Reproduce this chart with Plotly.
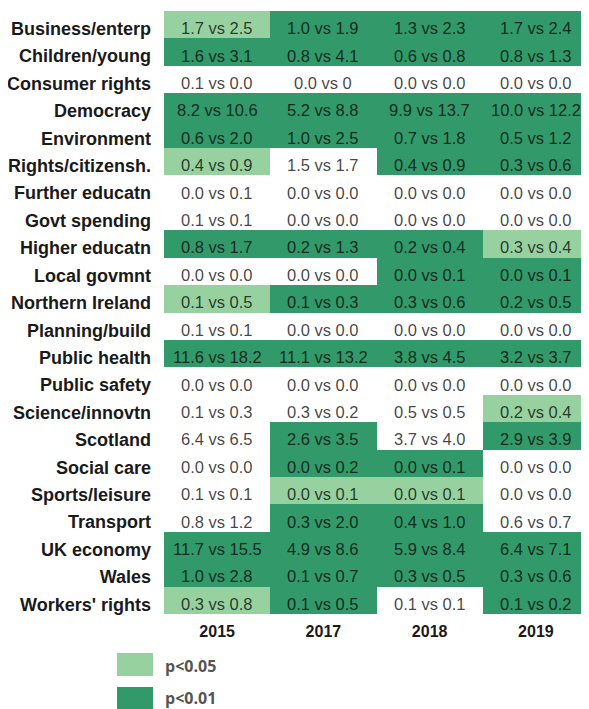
import plotly.graph_objects as go

TOPICS = [
    "Business/enterp", "Children/young", "Consumer rights", "Democracy",
    "Environment", "Rights/citizensh.", "Further educatn", "Govt spending",
    "Higher educatn", "Local govmnt", "Northern Ireland", "Planning/build",
    "Public health", "Public safety", "Science/innovtn", "Scotland",
    "Social care", "Sports/leisure", "Transport", "UK economy", "Wales",
    "Workers' rights",
]
YEARS = ["2015", "2017", "2018", "2019"]

# cell labels per year (share A vs share B)
LABELS_2015 = ["1.7 vs 2.5", "1.6 vs 3.1", "0.1 vs 0.0", "8.2 vs 10.6", "0.6 vs 2.0",
               "0.4 vs 0.9", "0.0 vs 0.1", "0.1 vs 0.1", "0.8 vs 1.7", "0.0 vs 0.0",
               "0.1 vs 0.5", "0.1 vs 0.1", "11.6 vs 18.2", "0.0 vs 0.0", "0.1 vs 0.3",
               "6.4 vs 6.5", "0.0 vs 0.0", "0.1 vs 0.1", "0.8 vs 1.2", "11.7 vs 15.5",
               "1.0 vs 2.8", "0.3 vs 0.8"]
LABELS_2017 = ["1.0 vs 1.9", "0.8 vs 4.1", "0.0 vs 0", "5.2 vs 8.8", "1.0 vs 2.5",
               "1.5 vs 1.7", "0.0 vs 0.0", "0.0 vs 0.0", "0.2 vs 1.3", "0.0 vs 0.0",
               "0.1 vs 0.3", "0.0 vs 0.0", "11.1 vs 13.2", "0.0 vs 0.0", "0.3 vs 0.2",
               "2.6 vs 3.5", "0.0 vs 0.2", "0.0 vs 0.1", "0.3 vs 2.0", "4.9 vs 8.6",
               "0.1 vs 0.7", "0.1 vs 0.5"]
LABELS_2018 = ["1.3 vs 2.3", "0.6 vs 0.8", "0.0 vs 0.0", "9.9 vs 13.7", "0.7 vs 1.8",
               "0.4 vs 0.9", "0.0 vs 0.0", "0.0 vs 0.0", "0.2 vs 0.4", "0.0 vs 0.1",
               "0.3 vs 0.6", "0.0 vs 0.0", "3.8 vs 4.5", "0.0 vs 0.0", "0.5 vs 0.5",
               "3.7 vs 4.0", "0.0 vs 0.1", "0.0 vs 0.1", "0.4 vs 1.0", "5.9 vs 8.4",
               "0.3 vs 0.5", "0.1 vs 0.1"]
LABELS_2019 = ["1.7 vs 2.4", "0.8 vs 1.3", "0.0 vs 0.0", "10.0 vs 12.2", "0.5 vs 1.2",
               "0.3 vs 0.6", "0.0 vs 0.0", "0.0 vs 0.0", "0.3 vs 0.4", "0.0 vs 0.1",
               "0.2 vs 0.5", "0.0 vs 0.0", "3.2 vs 3.7", "0.0 vs 0.0", "0.2 vs 0.4",
               "2.9 vs 3.9", "0.0 vs 0.0", "0.0 vs 0.0", "0.6 vs 0.7", "6.4 vs 7.1",
               "0.3 vs 0.6", "0.1 vs 0.2"]

# significance: 0 = n.s., 1 = p<0.05, 2 = p<0.01
SIG_2015 = [1, 2, 0, 2, 2, 1, 0, 0, 2, 0, 1, 0, 2, 0, 0, 0, 0, 0, 0, 2, 2, 1]
SIG_2017 = [2, 2, 0, 2, 2, 0, 0, 0, 2, 0, 2, 0, 2, 0, 0, 2, 2, 1, 2, 2, 2, 2]
SIG_2018 = [2, 2, 0, 2, 2, 2, 0, 0, 2, 2, 2, 0, 2, 0, 0, 0, 2, 1, 2, 2, 2, 0]
SIG_2019 = [2, 2, 0, 2, 2, 2, 0, 0, 1, 2, 2, 0, 2, 0, 1, 2, 0, 0, 0, 2, 2, 2]

LEGEND_LABELS = ["p<0.05", "p<0.01"]

COLOR_NS = "#ffffff"
COLOR_P05 = "#97d1a0"
COLOR_P01 = "#32996a"
TEXT_COLOR = "rgba(0,0,0,0.74)"
FONT = "Liberation Sans, Arial, sans-serif"

# page body has an 8px margin, so the figure is shrunk by that much
OFF = 8
W, H = 589 - OFF, 709 - OFF
M_L, M_R, M_T, M_B = 164 - OFF, 0, 11 - OFF, 95

labels = [LABELS_2015, LABELS_2017, LABELS_2018, LABELS_2019]
sigs = [SIG_2015, SIG_2017, SIG_2018, SIG_2019]

z = [[sigs[j][i] for j in range(len(YEARS))] for i in range(len(TOPICS))]

fig = go.Figure()
fig.add_trace(go.Heatmap(
    z=z, x=YEARS, y=TOPICS,
    zmin=0, zmax=2,
    colorscale=[
        [0.0, COLOR_NS], [0.333, COLOR_NS],
        [0.333, COLOR_P05], [0.667, COLOR_P05],
        [0.667, COLOR_P01], [1.0, COLOR_P01],
    ],
    showscale=False,
    hoverinfo="skip",
))

# cell text sits a few px below the cell centre in the original;
# category axes take the category index for annotation positions
for j in range(len(YEARS)):
    for i in range(len(TOPICS)):
        fig.add_annotation(x=j, y=i, text=labels[j][i], showarrow=False,
                           yshift=-3.5, font=dict(family=FONT, size=16.5, color=TEXT_COLOR))

# legend swatches drawn below the grid (pixel positions in the page)
plot_w = W - M_L - M_R
plot_h = H - M_T - M_B


def px_x(px):
    return (px - OFF - M_L) / plot_w


def px_y(py):
    return (H - M_B - (py - OFF)) / plot_h


swatches = [(653, 676, 666, COLOR_P05), (687, 712, 698, COLOR_P01)]
for (top, bot, mid, col), lab in zip(swatches, LEGEND_LABELS):
    fig.add_shape(type="rect", xref="paper", yref="paper",
                  x0=px_x(117), x1=px_x(153), y0=px_y(bot), y1=px_y(top),
                  fillcolor=col, line=dict(width=0))
    fig.add_annotation(xref="paper", yref="paper", x=px_x(163), y=px_y(mid),
                       text=lab, showarrow=False, xanchor="left", yanchor="middle",
                       font=dict(family="Open Sans, sans-serif", size=16, color="#555555",
                                 weight="bold"))

fig.update_layout(
    width=W, height=H,
    margin=dict(l=M_L, r=M_R, t=M_T, b=M_B, autoexpand=False),
    paper_bgcolor="white",
    plot_bgcolor="white",
    showlegend=False,
    xaxis=dict(type="category", range=[-0.5, len(YEARS) - 0.5], showgrid=False,
               zeroline=False, ticks="",
               tickfont=dict(family=FONT, size=16, color="#1a1a1a", weight="bold"),
               ticklabelstandoff=6, fixedrange=True),
    yaxis=dict(type="category", range=[len(TOPICS) - 0.5, -0.5], showgrid=False,
               zeroline=False, ticks="",
               tickfont=dict(family=FONT, size=18, color="#1a1a1a", weight="bold"),
               ticklabelstandoff=12, ticklabelshift=-4, fixedrange=True),
)

fig.write_html("out.html")
